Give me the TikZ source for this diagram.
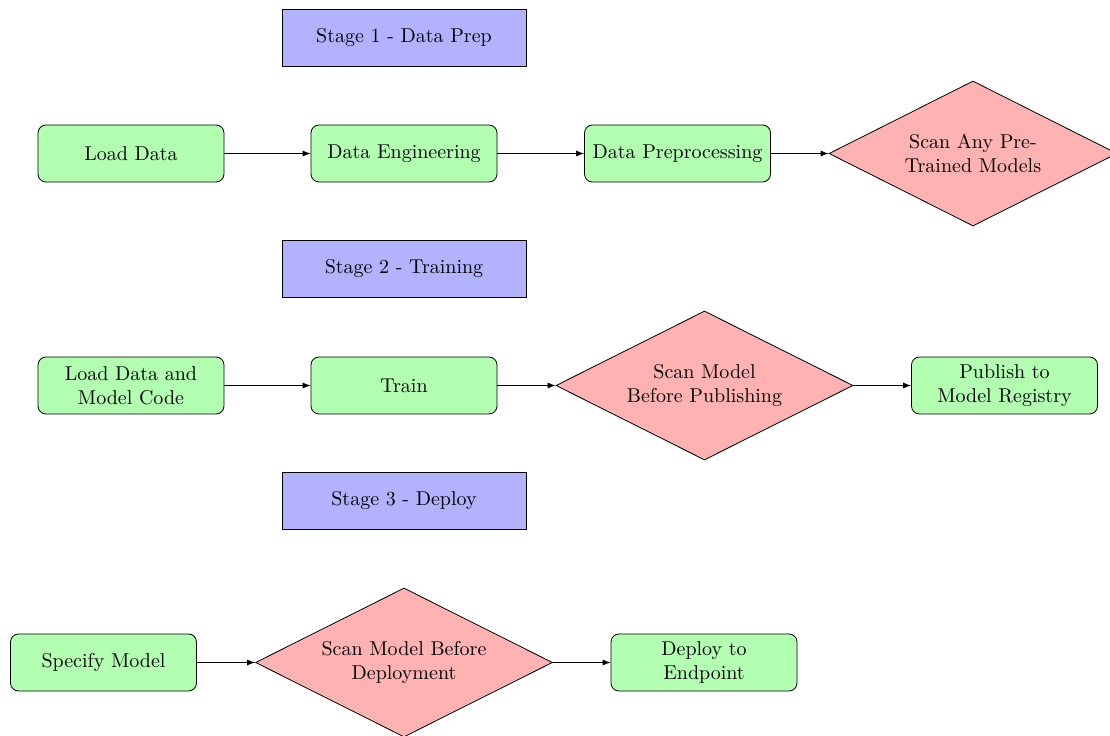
\documentclass[tikz,border=0pt]{standalone}
\usetikzlibrary{shapes.geometric,arrows}
\begin{document}
\begin{tikzpicture}[x=1pt,y=1pt,
  stagebox/.style={draw=black, fill=blue!30, minimum width=122pt, minimum height=28.5pt, inner sep=0pt, align=center},
  procbox/.style={draw=black, fill=green!30, rounded corners=4pt, minimum width=93pt, minimum height=28.5pt, inner sep=0pt, align=center},
  scanbox/.style={draw=black, fill=red!30, shape=diamond, aspect=2, minimum width=148.5pt, minimum height=74.5pt, inner sep=0pt, align=center},
  flow/.style={-latex, thin}]
\useasboundingbox (0,0) rectangle (555,367.5);
% Stage 1
\node[stagebox] (s1) at (202,348.75) {Stage 1 - Data Prep};
\node[procbox] (ld) at (65.5,290.75) {Load Data};
\node[procbox] (de) at (202,290.75) {Data Engineering};
\node[procbox] (dp) at (338.75,290.75) {Data Preprocessing};
\node[scanbox, minimum width=144pt, minimum height=72.5pt] (sp) at (486.5,290.75) {Scan Any Pre-\\Trained Models};
\draw[flow] (ld) -- (de);
\draw[flow] (de) -- (dp);
\draw[flow] (dp) -- (sp);
% Stage 2
\node[stagebox] (s2) at (202,233) {Stage 2 - Training};
\node[procbox] (lm) at (65.5,174.75) {Load Data and\\Model Code};
\node[procbox] (tr) at (202,174.75) {Train};
\node[scanbox] (sm) at (352.25,174.75) {Scan Model\\Before Publishing};
\node[procbox] (pr) at (502.25,174.75) {Publish to\\Model Registry};
\draw[flow] (lm) -- (tr);
\draw[flow] (tr) -- (sm);
\draw[flow] (sm) -- (pr);
% Stage 3
\node[stagebox] (s3) at (202,117) {Stage 3 - Deploy};
\node[procbox] (spm) at (51.75,36.25) {Specify Model};
\node[scanbox] (sd) at (202,36.25) {Scan Model Before\\Deployment};
\node[procbox] (dep) at (352,36.25) {Deploy to\\Endpoint};
\draw[flow] (spm) -- (sd);
\draw[flow] (sd) -- (dep);
\end{tikzpicture}
\end{document}
